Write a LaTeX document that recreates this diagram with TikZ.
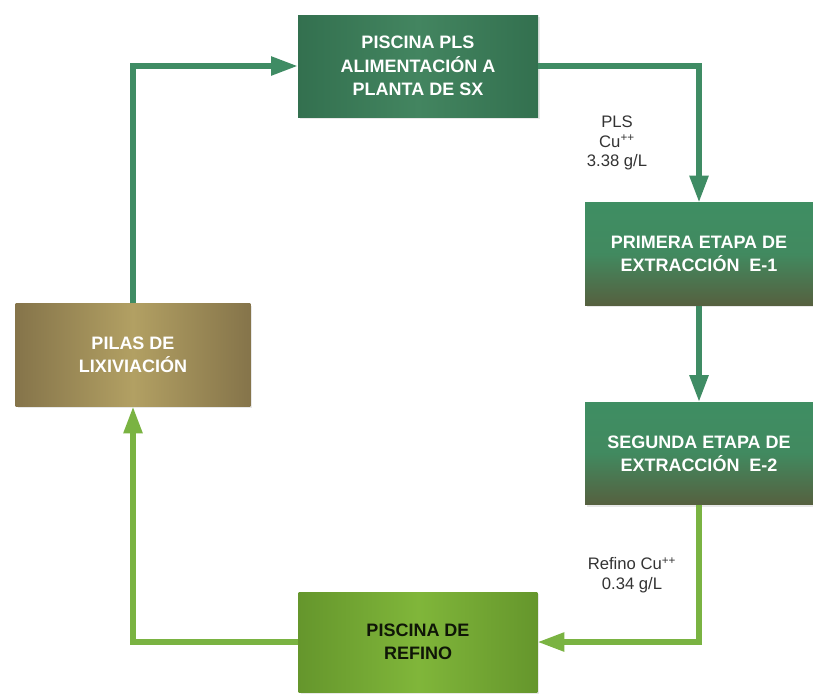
\documentclass[tikz,border=0pt]{standalone}
\usepackage{fontspec}
\setmainfont{Liberation Sans}
\usetikzlibrary{arrows.meta,shadows}

\definecolor{tealline}{HTML}{3F8C64}
\definecolor{limeline}{HTML}{7AB342}
\definecolor{tealdark}{HTML}{33704F}
\definecolor{tealmid}{HTML}{438560}
\definecolor{etapatop}{HTML}{3F8E63}
\definecolor{etapabot}{HTML}{56603F}
\definecolor{golddark}{HTML}{85744A}
\definecolor{goldmid}{HTML}{B2A063}
\definecolor{limedark}{HTML}{65962C}
\definecolor{limemid}{HTML}{80B63A}
\definecolor{labelgray}{HTML}{333333}

\begin{document}
\begin{tikzpicture}[x=0.75pt, y=-0.75pt, >=Stealth,
    box/.style={rectangle, align=center, inner sep=2pt,
      font=\fontsize{13.5}{17.5}\selectfont\bfseries, text=white,
      drop shadow={opacity=0.18, shadow xshift=1.5pt, shadow yshift=-1.5pt}},
    plsbox/.style={box, minimum width=180pt, minimum height=76.5pt,
      left color=tealdark, right color=tealdark, middle color=tealmid},
    etapabox/.style={box, minimum width=171pt, minimum height=77pt,
      top color=etapatop, bottom color=etapabot, middle color=etapatop!90!etapabot},
    pilasbox/.style={box, minimum width=176pt, minimum height=77pt,
      left color=golddark, right color=golddark, middle color=goldmid},
    refinobox/.style={box, minimum width=179pt, minimum height=75pt,
      left color=limedark, right color=limedark, middle color=limemid,
      text=black!85!limedark},
    flow/.style={line width=4pt, -{Triangle[length=20pt, width=13.5pt]}},
    lbl/.style={align=center, text=labelgray,
      font=\fontsize{12.5}{14.5}\selectfont}]
  \useasboundingbox (0,0) rectangle (813,694);

  % boxes
  \node[plsbox] (pls) at (418,66) {PISCINA PLS\\ALIMENTACIÓN A\\PLANTA DE SX};
  \node[etapabox] (e1) at (699,254) {PRIMERA ETAPA DE\\EXTRACCIÓN~ E-1};
  \node[etapabox] (e2) at (699,453.5) {SEGUNDA ETAPA DE\\EXTRACCIÓN~ E-2};
  \node[refinobox] (refino) at (418,642) {PISCINA DE\\REFINO};
  \node[pilasbox] (pilas) at (133,355) {PILAS DE\\LIXIVIACIÓN};

  % flows
  \draw[flow, tealline] (pilas.north) |- (pls.west);
  \draw[flow, tealline] (pls.east) -| (e1.north);
  \draw[flow, tealline] (e1.south) -- (e2.north);
  \draw[flow, limeline] (e2.south) |- (refino.east);
  \draw[flow, limeline] (refino.west) -| (pilas.south);

  % labels
  \node[lbl] (plslbl) at (617,143) {PLS\\Cu\textsuperscript{++}\\3.38 g/L};
  \node[lbl] (refinolbl) at (632,575) {Refino Cu\textsuperscript{++}\\0.34 g/L};
\end{tikzpicture}
\end{document}
